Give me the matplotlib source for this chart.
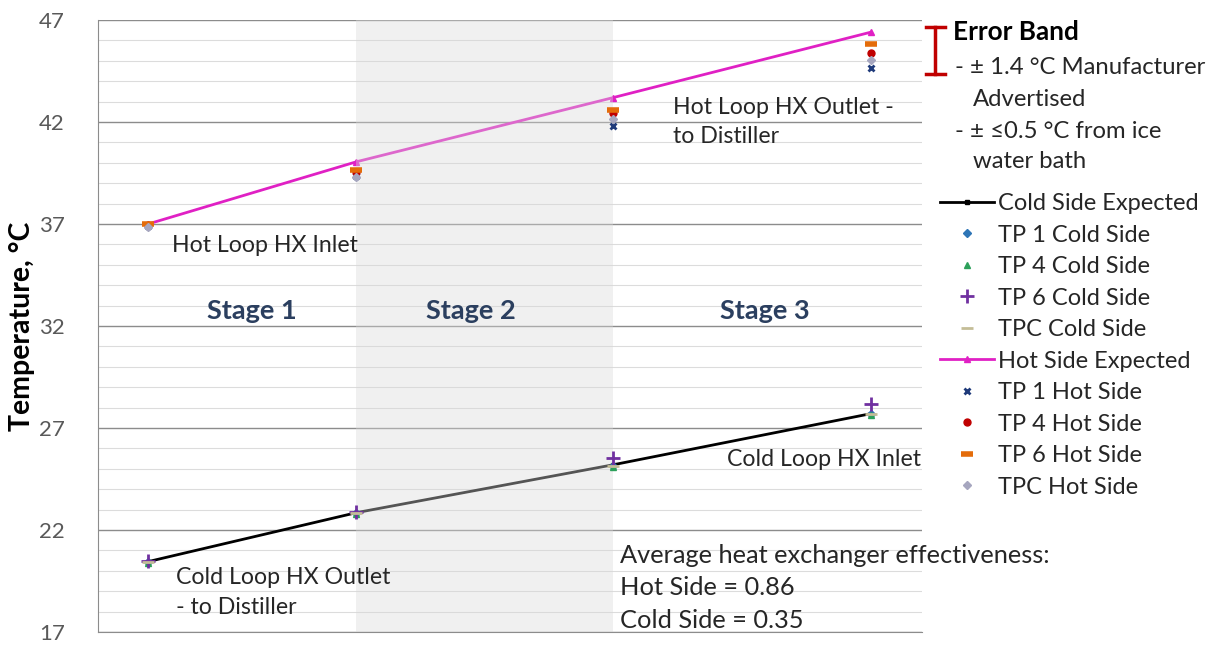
import matplotlib
matplotlib.use("Agg")
import matplotlib.pyplot as plt
from matplotlib.lines import Line2D
from matplotlib.ticker import MultipleLocator

plt.rcParams['font.family'] = ['Lato', 'DejaVu Sans']

# Measurement stations along the loop (relative position)
stations = [0.0, 0.81, 1.81, 2.81]

cold_expected = [20.45, 22.85, 25.2, 27.7]
tp1_cold = [20.45, 22.85, 25.15, 27.7]
tp4_cold = [20.4, 22.8, 25.1, 27.65]
tp6_cold = [20.5, 22.9, 25.55, 28.2]
tpc_cold = [20.45, 22.85, 25.15, 27.7]

hot_expected = [37.0, 40.05, 43.2, 46.4]
tp1_hot = [36.9, 39.35, 41.8, 44.65]
tp4_hot = [36.95, 39.55, 42.45, 45.4]
tp6_hot = [37.0, 39.65, 42.6, 45.8]
tpc_hot = [36.85, 39.3, 42.15, 45.05]

stage_labels = ["Stage 1", "Stage 2", "Stage 3"]
y_ticks = [17, 22, 27, 32, 37, 42, 47]

W, H = 1215, 648
fig = plt.figure(figsize=(W / 100, H / 100), dpi=100)
ax = fig.add_axes([98 / W, 1 - 632 / H, 824 / W, 612 / H])

ax.set_xlim(-0.195, 3.01)
ax.set_ylim(17, 47)
ax.set_yticks(y_ticks)
ax.yaxis.set_minor_locator(MultipleLocator(1))
ax.set_xticks([])
ax.grid(which='major', axis='y', color='#8c8c8c', lw=1.0, zorder=0)
ax.grid(which='minor', axis='y', color='#dcdcdc', lw=0.8, zorder=0)
ax.tick_params(axis='y', which='both', length=0, pad=24, labelsize=16,
               labelcolor='#595959')
for side in ['top', 'right']:
    ax.spines[side].set_visible(False)
for side in ['left', 'bottom']:
    ax.spines[side].set_color('#8c8c8c')
ax.set_ylabel("Temperature, °C", fontsize=20.5, fontweight='bold')
ax.yaxis.set_label_coords(-0.076, 0.5)

# Expected profiles
l_cold, = ax.plot(stations, cold_expected, color='black', lw=2, marker='s',
                  ms=3, zorder=2, label='Cold Side Expected')
l_hot, = ax.plot(stations, hot_expected, color='#e020c4', lw=2, marker='^',
                 ms=4, zorder=2, label='Hot Side Expected')

# Stage 2 shading
ax.axvspan(stations[1], stations[2], color='#d9d9d9', alpha=0.39, lw=0,
           zorder=2.5)

# Measured temperatures
m = dict(ls='none', zorder=3)
h1 = ax.plot(stations, tp1_cold, marker='D', ms=4, color='#2e75b6',
             label='TP 1 Cold Side', **m)[0]
h2 = ax.plot(stations, tp4_cold, marker='^', ms=5, color='#2ca05a',
             label='TP 4 Cold Side', **m)[0]
h3 = ax.plot(stations, tp6_cold, marker='+', ms=10, mew=2, color='#7030a0',
             label='TP 6 Cold Side', **m)[0]
h4 = ax.plot(stations, tpc_cold, marker='_', ms=8, mew=2, color='#c4bd97',
             label='TPC Cold Side', **m)[0]
h5 = ax.plot(stations, tp1_hot, marker='x', ms=5, mew=2, color='#1f3a7a',
             label='TP 1 Hot Side', **m)[0]
h6 = ax.plot(stations, tp4_hot, marker='o', ms=5, color='#c00000',
             label='TP 4 Hot Side', **m)[0]
h7 = ax.plot(stations, tp6_hot, marker='_', ms=9, mew=4, color='#e46c0a',
             label='TP 6 Hot Side', **m)[0]
h8 = ax.plot(stations, tpc_hot, marker='D', ms=4, color='#a6a6bf',
             label='TPC Hot Side', **m)[0]

handles = [l_cold, h1, h2, h3, h4, l_hot, h5, h6, h7, h8]
leg = fig.legend(handles=handles, loc='upper left',
                 bbox_to_anchor=(940 / W, 1 - 193 / H), frameon=False,
                 fontsize=17, handlelength=2.3, handletextpad=0.15,
                 labelspacing=0.445, borderaxespad=0, borderpad=0)
for t in leg.get_texts():
    t.set_color('#262626')

# Stage labels
stage_color = '#2b3f5f'
for x, s in zip([0.405, 1.257, 2.397], stage_labels):
    ax.text(x, 32.75, s, ha='center', va='center', fontsize=19.5,
            fontweight='bold', color=stage_color, zorder=4)

# Point annotations
tc = '#262626'
ax.text(0.093, 35.95, "Hot Loop HX Inlet", fontsize=16.7, va='center',
        color=tc)
ax.text(2.043, 43.25, "Hot Loop HX Outlet -\nto Distiller", fontsize=16.7,
        va='top', color=tc, linespacing=1.52, zorder=4)
ax.text(2.253, 25.45, "Cold Loop HX Inlet", fontsize=16.7, va='center',
        color=tc)
ax.text(0.109, 20.2, "Cold Loop HX Outlet\n- to Distiller", fontsize=16.7,
        va='top', color=tc, linespacing=1.52)
ax.text(1.837, 21.3,
        "Average heat exchanger effectiveness:\nHot Side = 0.86\nCold Side = 0.35",
        fontsize=18.3, va='top', color=tc, linespacing=1.48, zorder=4)

# Error band key
red = '#c00000'
bx = 935 / W
fig.add_artist(Line2D([bx, bx], [1 - 27 / H, 1 - 74 / H], color=red, lw=2.5))
fig.add_artist(Line2D([926 / W, 945 / W], [1 - 27 / H] * 2, color=red, lw=2.5))
fig.add_artist(Line2D([926 / W, 945 / W], [1 - 74 / H] * 2, color=red, lw=2.5))
fig.text(953 / W, 1 - 32 / H, "Error Band", fontsize=18.8, fontweight='bold',
         va='center', color='black')
fig.text(955 / W, 1 - 68 / H, "- ± 1.4 °C Manufacturer", fontsize=17.2,
         va='center', color=tc)
fig.text(973 / W, 1 - 99 / H, "Advertised", fontsize=17.2, va='center',
         color=tc)
fig.text(955 / W, 1 - 131 / H, "- ± ≤0.5 °C from ice", fontsize=17.2,
         va='center', color=tc)
fig.text(973 / W, 1 - 161 / H, "water bath", fontsize=17.2, va='center',
         color=tc)

fig.savefig("out.png", dpi=100)
